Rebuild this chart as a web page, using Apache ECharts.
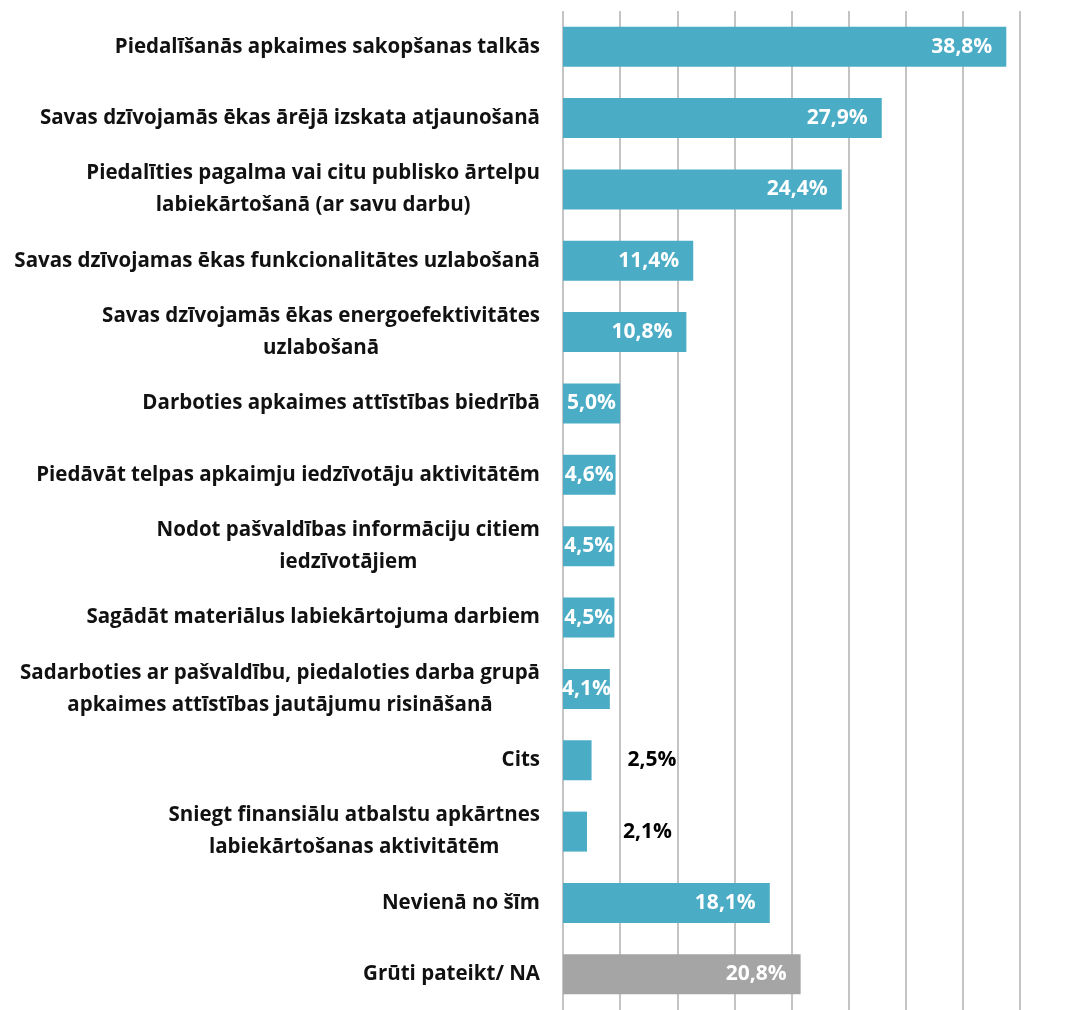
<!DOCTYPE html>
<html>
<head>
<meta charset="utf-8">
<script src="https://cdn.jsdelivr.net/npm/echarts@6/dist/echarts.min.js"></script>
<style>
  html, body { margin: 0; padding: 0; background: #fff; }
  #chart { width: 1068px; height: 1010px; }
</style>
</head>
<body>
<div id="chart"></div>
<script>
// kategorijas (no augšas uz leju)
const categories = [
  'Piedalīšanās apkaimes sakopšanas talkās',
  'Savas dzīvojamās ēkas ārējā izskata atjaunošanā',
  'Piedalīties pagalma vai citu publisko ārtelpu\nlabiekārtošanā (ar savu darbu)',
  'Savas dzīvojamas ēkas funkcionalitātes uzlabošanā',
  'Savas dzīvojamās ēkas energoefektivitātes\nuzlabošanā',
  'Darboties apkaimes attīstības biedrībā',
  'Piedāvāt telpas apkaimju iedzīvotāju aktivitātēm',
  'Nodot pašvaldības informāciju citiem\niedzīvotājiem',
  'Sagādāt materiālus labiekārtojuma darbiem',
  'Sadarboties ar pašvaldību, piedaloties darba grupā\napkaimes attīstības jautājumu risināšanā',
  'Cits',
  'Sniegt finansiālu atbalstu apkārtnes\nlabiekārtošanas aktivitātēm',
  'Nevienā no šīm',
  'Grūti pateikt/ NA'
]
const values = [38.8, 27.9, 24.4, 11.4, 10.8, 5.0, 4.6, 4.5, 4.5, 4.1, 2.5, 2.1, 18.1, 20.8]
const axisTicks = [0, 5, 10, 15, 20, 25, 30, 35, 40]

const fmt = v => v.toFixed(1).replace('.', ',') + '%'

const chart = echarts.init(document.getElementById('chart'))
window.addEventListener('resize', () => chart.resize())

const data = values.map((v, i) => {
  const item = { value: v }
  // pēdējā josla pelēka
  if (i === values.length - 1) item.itemStyle = { color: '#A5A5A5' }
  if (v < 3) {
    // mazās vērtības ārpus joslas
    item.label = { position: 'right', distance: 36, color: '#000' }
  } else if (v < 6) {
    // šaurās joslas – teksts centrā
    item.label = { position: 'inside' }
  }
  return item
})

chart.setOption({
  animation: false,
  grid: { left: 563, right: 48, top: 11, bottom: -8 },
  xAxis: {
    type: 'value',
    min: axisTicks[0],
    max: axisTicks[axisTicks.length - 1],
    interval: 5,
    axisLabel: { show: false },
    axisLine: { show: false },
    axisTick: { show: false },
    splitLine: { show: true, lineStyle: { color: '#b0b0b0', width: 1.5 } }
  },
  yAxis: {
    type: 'category',
    data: categories,
    inverse: true,
    axisLine: { show: false },
    axisTick: { show: false },
    axisLabel: {
      margin: 23,
      align: 'right',
      // rindas centrētas savā starpā, bloks pielīdzināts pa labi
      formatter: v => v.split('\n').map(l => '{c|' + l + '}').join('\n'),
      rich: {
        c: {
          align: 'center',
          color: '#111',
          fontFamily: 'Open Sans',
          fontWeight: 'bold',
          fontSize: 20.5,
          lineHeight: 32
        }
      }
    }
  },
  series: [{
    type: 'bar',
    data: data,
    barWidth: 40,
    itemStyle: { color: '#4BACC6' },
    label: {
      show: true,
      position: 'insideRight',
      distance: 14,
      color: '#fff',
      fontFamily: 'Open Sans',
      fontWeight: 'bold',
      fontSize: 21,
      formatter: p => fmt(p.value)
    }
  }]
})
</script>
</body>
</html>
